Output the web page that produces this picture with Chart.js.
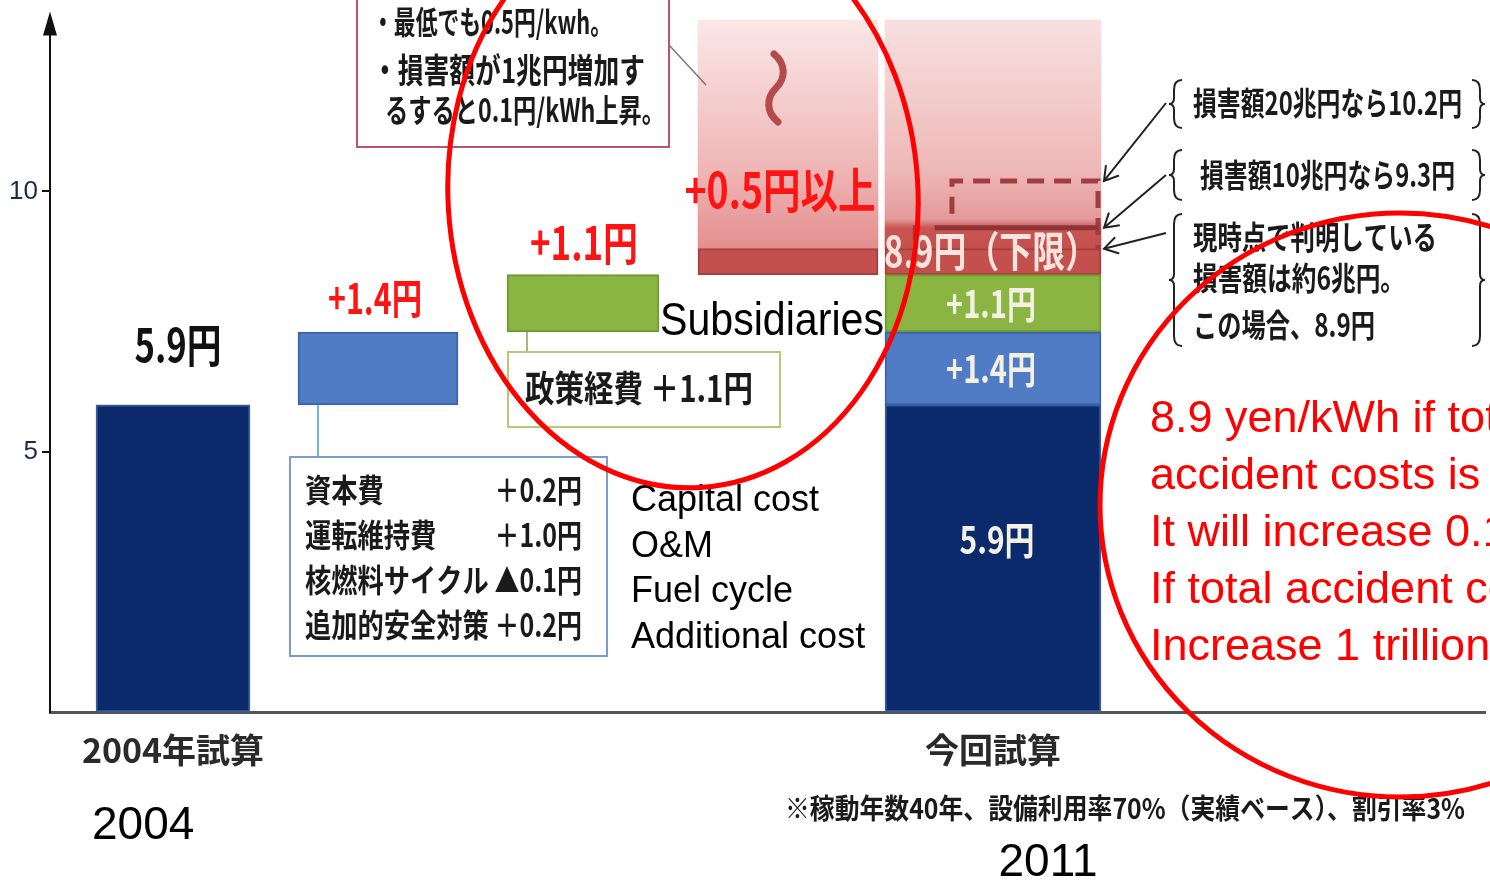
<!DOCTYPE html>
<html>
<head>
<meta charset="utf-8">
<script src="https://cdn.jsdelivr.net/npm/chart.js@4/dist/chart.umd.min.js"></script>
<style>
  body { margin: 0; background: #fff; }
  #wrap { width: 1490px; height: 881px; }
</style>
</head>
<body>
<div id="wrap"><canvas id="myChart" width="1490" height="881"></canvas></div>
<script>
  var categories = ["2004年試算", "今回試算"];
  var categoryPos = [0, 4];
  var stepNames = ["2004年", "+1.4円", "+1.1円", "+0.5円以上"];
  var stepValues = [5.9, 1.4, 1.1, 0.5];
  var damageMarks = [9.3, 10.2];
  var yTicks = [5, 10];
  var yMax = 13.3;

  var costItems = ["資本費", "運転維持費", "核燃料サイクル", "追加的安全対策"];
  var costDeltas = ["＋0.2円", "＋1.0円", "▲0.1円", "＋0.2円"];
  var costEnglish = ["Capital cost", "O&M", "Fuel cycle", "Additional cost"];

  var stepColors = ["#0b2a6b", "#4f7cc4", "#8ab542", "#c4504e"];
  var stepBorders = ["#3b5c9a", "#3a65a8", "#6f9a34", "#a83e3e"];
  var stepWidths = [154, 160, 152, 180];
  var totalWidth = 216;

  // running totals for the waterfall
  var tops = [];
  var acc = 0;
  stepValues.forEach(v => { acc += v; tops.push(Math.round(acc * 10) / 10); });

  var fade = stops => c => {
    var chart = c.chart;
    if (!chart.chartArea) return stops[0][1];
    var g = chart.ctx.createLinearGradient(0, chart.scales.y.getPixelForValue(tops[3]), 0, chart.chartArea.top);
    stops.forEach(s => g.addColorStop(s[0], s[1]));
    return g;
  };

  var datasets = [];
  stepValues.forEach((v, i) => {
    var base = i == 0 ? 0 : tops[i - 1];
    datasets.push({
      label: stepNames[i],
      data: [{x: i, y: [base, tops[i]]}],
      backgroundColor: stepColors[i],
      borderColor: stepBorders[i],
      barThickness: stepWidths[i]
    });
    datasets.push({
      label: stepNames[i] + "（今回）",
      data: [{x: categoryPos[1], y: [base, tops[i]]}],
      backgroundColor: stepColors[i],
      borderColor: stepBorders[i],
      barThickness: totalWidth
    });
  });
  datasets.push({
    label: "以上",
    data: [{x: 3, y: [tops[3], yMax]}],
    backgroundColor: fade([[0, "#e48e8e"], [0.35, "#efb6b6"], [1, "#fbe7e7"]]),
    borderWidth: 0,
    barThickness: stepWidths[3]
  });
  datasets.push({
    label: "以上（今回）",
    data: [{x: categoryPos[1], y: [tops[3], yMax]}],
    backgroundColor: fade([[0, "#c44f4d"], [0.09, "#c95654"], [0.13, "#e49a9a"], [0.35, "#efb8b8"], [1, "#f8e0e0"]]),
    borderWidth: 0,
    barThickness: totalWidth
  });

  var jpw = (c, text, x, y, size, color, width, align) => {
    c.save();
    c.font = "bold " + size + "px 'Noto Sans CJK JP'";
    c.fillStyle = color;
    c.textBaseline = "middle";
    c.textAlign = "left";
    var sx = width / c.measureText(text).width;
    var left = align == "center" ? x - width / 2 : align == "right" ? x - width : x;
    c.translate(left, y);
    c.scale(sx, 1);
    c.fillText(text, 0, 0);
    c.restore();
  };
  var jps = (c, text, x, y, size, color, sx, align) => {
    c.save();
    c.font = "bold " + size + "px 'Noto Sans CJK JP'";
    var w = c.measureText(text).width * sx;
    c.restore();
    jpw(c, text, x, y, size, color, w, align);
  };
  var en = (c, text, x, y, size, color, align, maxW) => {
    c.save();
    c.font = size + "px 'Liberation Sans'";
    c.fillStyle = color;
    c.textAlign = align || "left";
    c.textBaseline = "alphabetic";
    if (maxW) c.fillText(text, x, y, maxW); else c.fillText(text, x, y);
    c.restore();
  };
  var brace = (c, x, top, bottom, dir) => {
    var mid = (top + bottom) / 2;
    c.beginPath();
    c.moveTo(x + 8 * dir, top);
    c.quadraticCurveTo(x, top, x, top + 10);
    c.lineTo(x, mid - 6);
    c.quadraticCurveTo(x, mid, x - 5 * dir, mid);
    c.quadraticCurveTo(x, mid, x, mid + 6);
    c.lineTo(x, bottom - 10);
    c.quadraticCurveTo(x, bottom, x + 8 * dir, bottom);
    c.stroke();
  };

  var notes = {
    id: "notes",
    afterDraw: chart => {
      var c = chart.ctx;
      var a = chart.chartArea;
      var y = chart.scales.y;
      var bar = k => chart.getDatasetMeta(k).data[0];
      var b0 = bar(0), b1 = bar(2), b2 = bar(4), b3 = bar(6), tot = bar(1);
      var left = e => e.x - e.width / 2;
      var right = e => e.x + e.width / 2;
      var y102 = y.getPixelForValue(damageMarks[1]);
      var y93 = y.getPixelForValue(damageMarks[0]);
      var y89 = y.getPixelForValue(tops[3]);

      // y axis arrow
      c.save();
      c.fillStyle = "#111";
      c.beginPath();
      c.moveTo(a.left, a.top - 8);
      c.lineTo(a.left - 7, a.top + 16);
      c.lineTo(a.left + 7, a.top + 16);
      c.closePath();
      c.fill();
      c.restore();

      // top left callout
      c.save();
      c.fillStyle = "#fff";
      c.fillRect(357, -5, 312, 152);
      c.strokeStyle = "#c2526a";
      c.lineWidth = 2;
      c.strokeRect(357, -5, 312, 152);
      c.strokeStyle = "#777";
      c.lineWidth = 1.5;
      c.beginPath();
      c.moveTo(669, 45);
      c.lineTo(left(b3) + 8, 85);
      c.stroke();
      c.restore();
      jpw(c, "・最低でも0.5円/kwh。", 372, 22, 32, "#1a1a1a", 240);
      jpw(c, "・損害額が1兆円増加す", 372, 70, 34, "#1a1a1a", 273);
      jpw(c, "るすると0.1円/kWh上昇。", 385, 110, 32, "#1a1a1a", 280);

      // wavy mark
      c.save();
      c.strokeStyle = "#b34a4e";
      c.lineWidth = 7;
      c.lineCap = "round";
      var wx = b3.x - 12;
      c.beginPath();
      c.moveTo(wx - 2, 54);
      c.bezierCurveTo(wx + 10, 64, wx + 10, 78, wx, 88);
      c.bezierCurveTo(wx - 10, 98, wx - 10, 112, wx + 2, 122);
      c.stroke();
      c.restore();

      // step labels
      jpw(c, "5.9円", b0.x + 5, 345, 46, "#111", 87, "center");
      jpw(c, "+1.4円", b1.x - 3, 298, 42, "#ff1414", 94, "center");
      jpw(c, "+1.1円", b2.x + 1, 243, 46, "#ff1414", 108, "center");
      jpw(c, "+0.5円以上", b3.x - 8, 190, 48, "#ff1414", 191, "center");

      // damage range on the 2011 bar
      var tl = left(tot), tw = tot.width, tr = right(tot);
      c.save();
      c.strokeStyle = "#a13c40";
      c.lineWidth = 5;
      c.setLineDash([17, 10]);
      c.beginPath();
      c.moveTo(tl + 0.31 * tw, y93 - 14);
      c.lineTo(tl + 0.31 * tw, y102);
      c.lineTo(tr - 3, y102);
      c.lineTo(tr - 3, y89);
      c.stroke();
      c.beginPath();
      c.moveTo(tl + 0.14 * tw, y93 + 12);
      c.lineTo(tl + 0.14 * tw, y93);
      c.lineTo(tl + 0.21 * tw, y93);
      c.stroke();
      c.setLineDash([]);
      c.strokeStyle = "#8c3436";
      c.beginPath();
      c.moveTo(tl + 0.23 * tw, y93);
      c.lineTo(tr - 3, y93);
      c.stroke();
      c.restore();

      var seg = k => { var e = bar(k); return (e.y + e.base) / 2; };
      jpw(c, "+1.4円", tot.x - 2, seg(3), 38, "#f4f1e4", 90, "center");
      jpw(c, "+1.1円", tot.x - 2, seg(5), 38, "#f4f1e4", 90, "center");
      jpw(c, "5.9円", tot.x + 4, 540, 38, "#f4f1e4", 75, "center");
      jpw(c, "8.9円（下限）", tot.x - 2, y89 + 2, 42, "#f8e4dc", 214, "center");

      // cost breakdown box
      var bx = left(b1) - 8;
      c.save();
      c.strokeStyle = "#3fa0c8";
      c.lineWidth = 1.5;
      c.beginPath();
      c.moveTo(left(b1) + 20, b1.base);
      c.lineTo(left(b1) + 20, 457);
      c.stroke();
      c.fillStyle = "#fff";
      c.fillRect(bx, 457, 317, 199);
      c.strokeStyle = "#7d9bd0";
      c.lineWidth = 2;
      c.strokeRect(bx, 457, 317, 199);
      c.restore();
      costItems.forEach((t, i) => {
        jps(c, t, bx + 15, 490 + 45 * i, 32, "#1a1a1a", 0.82);
        jps(c, costDeltas[i], bx + 292, 490 + 45 * i, 32, "#1a1a1a", 0.78, "right");
        en(c, costEnglish[i], 631, 511 + 45.5 * i, 36, "#000");
      });

      // policy cost box
      var px = left(b2) + 1;
      c.save();
      c.strokeStyle = "#8f9f55";
      c.lineWidth = 1.5;
      c.beginPath();
      c.moveTo(left(b2) + 20, b2.base);
      c.lineTo(left(b2) + 20, 352);
      c.stroke();
      c.fillStyle = "#fff";
      c.fillRect(px, 352, 272, 75);
      c.strokeStyle = "#b9c77e";
      c.lineWidth = 2;
      c.strokeRect(px, 352, 272, 75);
      c.restore();
      jpw(c, "政策経費 ＋1.1円", px + 17, 388, 36, "#1a1a1a", 228);

      en(c, "Subsidiaries", right(b2) + 1, 335, 47, "#000", "left", tl - right(b2) - 2);

      // right hand notes
      c.save();
      c.strokeStyle = "#222";
      c.lineWidth = 2;
      [[103, y102], [175, y93], [233, y89]].forEach(p => {
        var ex = tr + 3;
        var ang = Math.atan2(p[0] - p[1], 1166 - ex);
        c.beginPath();
        c.moveTo(1166, p[0]);
        c.lineTo(ex, p[1]);
        c.moveTo(ex + 16 * Math.cos(ang - 0.55), p[1] + 16 * Math.sin(ang - 0.55));
        c.lineTo(ex, p[1]);
        c.lineTo(ex + 16 * Math.cos(ang + 0.55), p[1] + 16 * Math.sin(ang + 0.55));
        c.stroke();
      });
      [[80, 128], [150, 200], [214, 346]].forEach(r => {
        brace(c, 1174, r[0], r[1], 1);
        brace(c, 1480, r[0], r[1], -1);
      });
      c.restore();
      jpw(c, "損害額20兆円なら10.2円", 1193, 103, 32, "#1a1a1a", 269);
      jpw(c, "損害額10兆円なら9.3円", 1200, 175, 32, "#1a1a1a", 255);
      jpw(c, "現時点で判明している", 1193, 237, 32, "#1a1a1a", 244);
      jpw(c, "損害額は約6兆円。", 1193, 278, 32, "#1a1a1a", 212);
      jpw(c, "この場合、8.9円", 1193, 325, 32, "#1a1a1a", 182);

      // bottom texts
      jpw(c, "※稼動年数40年、設備利用率70%（実績ベース）、割引率3%", 785, 808, 28, "#1a1a1a", 680);
      en(c, "2004", 92, 839, 46, "#000");
      en(c, "2011", 1048, 876, 46, "#000", "center");

      // english notes in red
      ["8.9 yen/kWh if total", "accident costs is 6 trillion yen.", "It will increase 0.1 yen/kWh",
       "If total accident costs", "Increase 1 trillion yen."].forEach((t, i) => {
        en(c, t, 1150, 432 + 57 * i, 45, "#ff0000");
      });
      en(c, "Costs associated with accident costs", 700, -2, 40, "#ff0000");

      // highlight ellipses
      c.save();
      c.strokeStyle = "#ff0000";
      c.lineWidth = 5;
      c.beginPath();
      c.ellipse(683, 195, 235, 293, -0.06, 0, Math.PI * 2);
      c.stroke();
      c.beginPath();
      c.ellipse(1400, 505, 300, 292, 0, 0, Math.PI * 2);
      c.stroke();
      c.restore();
    }
  };

  new Chart("myChart", {
    type: "bar",
    data: { datasets: datasets },
    options: {
      responsive: false,
      animation: false,
      devicePixelRatio: 1,
      layout: { padding: { top: 15, right: 5, left: 0, bottom: 0 } },
      datasets: { bar: { grouped: false, borderWidth: 2, borderSkipped: false } },
      plugins: { legend: { display: false }, tooltip: { enabled: false } },
      scales: {
        x: {
          type: "linear",
          min: -0.6,
          max: 6.4,
          offset: false,
          grid: { display: false, drawTicks: false, offset: false },
          border: { display: true, color: "#555", width: 3 },
          afterBuildTicks: s => { s.ticks = categoryPos.map(v => ({value: v})); },
          afterFit: s => { s.height = 169; },
          ticks: {
            autoSkip: false,
            maxRotation: 0,
            padding: 18,
            color: "#2a2a2a",
            font: { family: "'Noto Sans CJK JP'", size: 34, weight: "bold" },
            callback: v => categories[categoryPos.indexOf(v)]
          }
        },
        y: {
          min: 0,
          max: yMax,
          afterBuildTicks: s => { s.ticks = yTicks.map(v => ({value: v})); },
          afterFit: s => { s.width = 50; },
          grid: { drawOnChartArea: false, tickLength: 8, color: "#111", lineWidth: 2 },
          border: { display: true, color: "#111", width: 2 },
          ticks: { padding: 4, color: "#1c2a4a", font: { family: "'Liberation Sans'", size: 26 } }
        }
      }
    },
    plugins: [notes]
  });
</script>
</body>
</html>
